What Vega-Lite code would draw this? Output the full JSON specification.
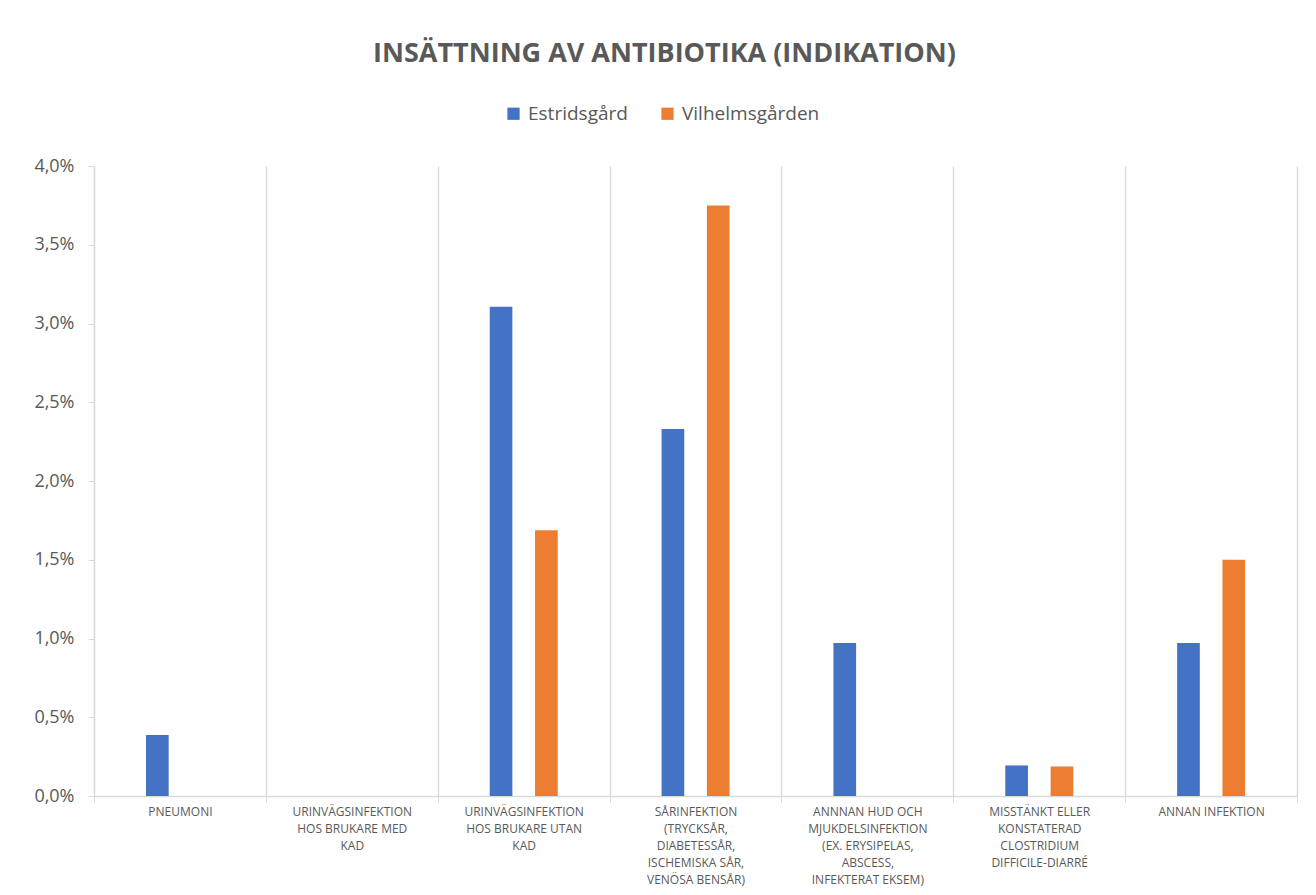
{
  "$schema": "https://vega.github.io/schema/vega-lite/v6.json",
  "width": 1203,
  "height": 630,
  "autosize": {"type": "none"},
  "padding": {"left": 94, "top": 166, "right": 19, "bottom": 99},
  "background": "white",
  "title": {
    "text": "INSÄTTNING AV ANTIBIOTIKA (INDIKATION)",
    "font": "Open Sans",
    "fontSize": 27,
    "fontWeight": "bold",
    "color": "#595959",
    "anchor": "middle",
    "dx": -31,
    "offset": 36
  },
  "data": {
    "values": [
      {"indikation": "Pneumoni", "enhet": "Estridsgård", "andel": 0.00388},
      {"indikation": "Pneumoni", "enhet": "Vilhelmsgården", "andel": 0},
      {"indikation": "Urinvägsinfektion hos brukare med KAD", "enhet": "Estridsgård", "andel": 0},
      {"indikation": "Urinvägsinfektion hos brukare med KAD", "enhet": "Vilhelmsgården", "andel": 0},
      {"indikation": "Urinvägsinfektion hos brukare utan KAD", "enhet": "Estridsgård", "andel": 0.03107},
      {"indikation": "Urinvägsinfektion hos brukare utan KAD", "enhet": "Vilhelmsgården", "andel": 0.016875},
      {"indikation": "Sårinfektion (trycksår, diabetessår, ischemiska sår, venösa bensår)", "enhet": "Estridsgård", "andel": 0.0233},
      {"indikation": "Sårinfektion (trycksår, diabetessår, ischemiska sår, venösa bensår)", "enhet": "Vilhelmsgården", "andel": 0.0375},
      {"indikation": "Annnan hud och mjukdelsinfektion (ex. erysipelas, abscess, infekterat eksem)", "enhet": "Estridsgård", "andel": 0.00971},
      {"indikation": "Annnan hud och mjukdelsinfektion (ex. erysipelas, abscess, infekterat eksem)", "enhet": "Vilhelmsgården", "andel": 0},
      {"indikation": "Misstänkt eller konstaterad Clostridium difficile-diarré", "enhet": "Estridsgård", "andel": 0.00194},
      {"indikation": "Misstänkt eller konstaterad Clostridium difficile-diarré", "enhet": "Vilhelmsgården", "andel": 0.001875},
      {"indikation": "Annan infektion", "enhet": "Estridsgård", "andel": 0.00971},
      {"indikation": "Annan infektion", "enhet": "Vilhelmsgården", "andel": 0.015}
    ]
  },
  "mark": {"type": "bar"},
  "encoding": {
    "x": {
      "field": "indikation",
      "type": "nominal",
      "sort": null,
      "scale": {"paddingInner": 0, "paddingOuter": 0},
      "axis": {
        "title": null,
        "labelAngle": 0,
        "grid": true,
        "gridColor": "#d9d9d9",
        "gridWidth": 1.3,
        "tickBand": "extent",
        "domainColor": "#d9d9d9",
        "domainWidth": 1.3,
        "tickColor": "#d9d9d9",
        "tickSize": 6,
        "labelPadding": 4,
        "labelFont": "Open Sans",
        "labelFontSize": 12,
        "labelColor": "#595959",
        "labelLineHeight": 17,
        "labelLimit": 300,
        "labelExpr": "datum.value == 'Pneumoni' ? 'PNEUMONI' : datum.value == 'Urinvägsinfektion hos brukare med KAD' ? ['URINVÄGSINFEKTION', 'HOS BRUKARE MED', 'KAD'] : datum.value == 'Urinvägsinfektion hos brukare utan KAD' ? ['URINVÄGSINFEKTION', 'HOS BRUKARE UTAN', 'KAD'] : datum.value == 'Sårinfektion (trycksår, diabetessår, ischemiska sår, venösa bensår)' ? ['SÅRINFEKTION', '(TRYCKSÅR,', 'DIABETESSÅR,', 'ISCHEMISKA SÅR,', 'VENÖSA BENSÅR)'] : datum.value == 'Annnan hud och mjukdelsinfektion (ex. erysipelas, abscess, infekterat eksem)' ? ['ANNNAN HUD OCH', 'MJUKDELSINFEKTION', '(EX. ERYSIPELAS,', 'ABSCESS,', 'INFEKTERAT EKSEM)'] : datum.value == 'Misstänkt eller konstaterad Clostridium difficile-diarré' ? ['MISSTÄNKT ELLER', 'KONSTATERAD', 'CLOSTRIDIUM', 'DIFFICILE-DIARRÉ'] : datum.value == 'Annan infektion' ? 'ANNAN INFEKTION' : ''"
      }
    },
    "xOffset": {
      "field": "enhet",
      "type": "nominal",
      "sort": ["Estridsgård", "Vilhelmsgården"],
      "scale": {"range": [52, 120], "paddingInner": 0.5, "paddingOuter": 0}
    },
    "y": {
      "field": "andel",
      "type": "quantitative",
      "scale": {"domain": [0, 0.04], "nice": false},
      "axis": {
        "title": null,
        "values": [0, 0.005, 0.01, 0.015, 0.02, 0.025, 0.03, 0.035, 0.04],
        "grid": false,
        "domainColor": "#d9d9d9",
        "domainWidth": 1.3,
        "tickColor": "#d9d9d9",
        "tickSize": 6,
        "labelPadding": 14,
        "labelFont": "Open Sans",
        "labelFontSize": 18,
        "labelColor": "#595959",
        "labelExpr": "replace(format(datum.value, '.1%'), '.', ',')"
      }
    },
    "color": {
      "field": "enhet",
      "type": "nominal",
      "sort": ["Estridsgård", "Vilhelmsgården"],
      "scale": {"domain": ["Estridsgård", "Vilhelmsgården"], "range": ["#4472C4", "#ED7D31"]},
      "legend": {
        "title": null,
        "orient": "none",
        "direction": "horizontal",
        "legendX": 410,
        "legendY": -62,
        "symbolType": "square",
        "symbolSize": 150,
        "symbolStrokeWidth": 0,
        "symbolOpacity": 1,
        "labelFont": "Open Sans",
        "labelFontSize": 19,
        "labelColor": "#595959",
        "labelOffset": 5,
        "columnPadding": 30
      }
    }
  },
  "config": {
    "view": {"stroke": null}
  }
}
